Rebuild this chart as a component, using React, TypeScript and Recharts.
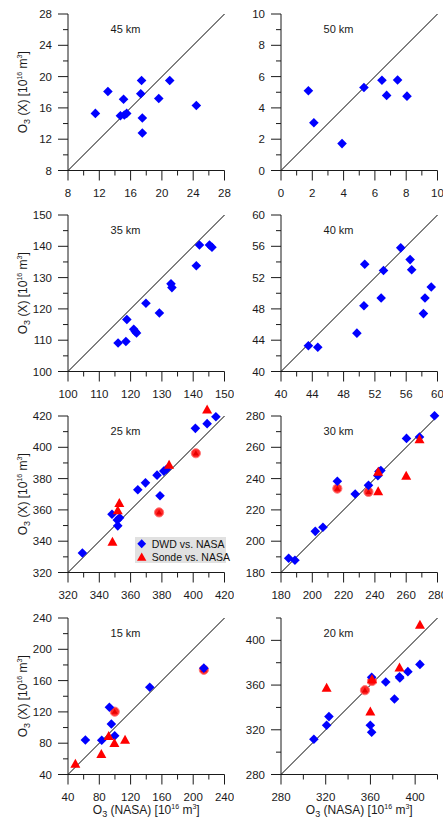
import React from 'react';
import { ScatterChart, Scatter, XAxis, YAxis, ReferenceLine, Legend, Label } from 'recharts';

// axis ticks (labelled majors) and axis ranges per altitude
const ticks45 = [8, 12, 16, 20, 24, 28];
const ticks50 = [0, 2, 4, 6, 8, 10];
const ticks35 = [100, 110, 120, 130, 140, 150];
const ticks40 = [40, 44, 48, 52, 56, 60];
const ticks25 = [320, 340, 360, 380, 400, 420];
const ticks30 = [180, 200, 220, 240, 260, 280];
const ticks15 = [40, 80, 120, 160, 200, 240];
const ticks20 = [280, 320, 360, 400];
const range20 = [280, 420];

// [O3 NASA, O3 X] pairs, 10^16 m^3
const dwd45 = [[11.5, 15.3], [13.1, 18.1], [15.1, 17.1], [14.7, 15.0], [15.2, 15.1], [15.5, 15.3], [17.3, 17.8], [17.4, 19.5], [17.5, 14.7], [17.5, 12.8], [19.6, 17.2], [21.0, 19.5], [24.4, 16.3]];
const dwd50 = [[1.75, 5.1], [2.1, 3.05], [3.9, 1.72], [5.3, 5.3], [6.45, 5.77], [6.75, 4.8], [7.45, 5.78], [8.05, 4.75]];
const dwd35 = [[116.0, 109.1], [118.5, 109.6], [118.8, 116.6], [121.0, 113.5], [121.5, 112.8], [121.9, 112.3], [124.9, 121.8], [129.2, 118.7], [132.9, 128.0], [133.2, 126.8], [141.0, 133.8], [142.0, 140.4], [145.2, 140.4], [146.0, 139.7]];
const dwd40 = [[43.5, 43.3], [44.7, 43.1], [49.7, 44.9], [50.6, 48.4], [50.7, 53.7], [52.8, 49.4], [53.1, 52.9], [55.3, 55.8], [56.5, 54.3], [56.7, 53.0], [58.2, 47.4], [58.4, 49.4], [59.2, 50.8]];
const dwd25 = [[329.2, 332.5], [348.1, 357.2], [351.8, 349.8], [351.5, 353.5], [353.0, 355.0], [364.6, 372.9], [369.5, 377.3], [376.9, 382.2], [378.8, 369.0], [381.2, 384.8], [382.9, 386.0], [401.4, 412.1], [408.9, 415.1], [414.5, 419.5]];
const sonde25 = [[348.4, 339.7], [351.8, 359.7], [352.8, 364.4], [384.6, 388.8], [408.9, 424.2]];
const ring25 = [[378.2, 358.4], [401.7, 396.2]];
const dwd30 = [[184.9, 189.1], [188.9, 187.8], [201.9, 206.3], [206.8, 208.9], [216.0, 238.3], [227.4, 230.2], [235.9, 235.7], [241.9, 241.9], [242.6, 244.5], [243.8, 245.1], [260.2, 265.7], [268.5, 266.6], [278.1, 280.2]];
const sonde30 = [[242.1, 231.9], [242.1, 244.3], [260.0, 241.9], [268.5, 265.1]];
const ring30 = [[216.0, 233.6], [235.9, 231.5]];
const dwd15 = [[62.2, 84.0], [83.1, 83.7], [92.9, 126.0], [95.4, 104.5], [99.7, 89.6], [144.5, 151.5], [213.6, 175.9]];
const sonde15 = [[49.4, 53.7], [82.6, 66.1], [92.0, 89.1], [99.3, 80.2], [112.9, 84.4]];
const ring15 = [[99.7, 120.3], [213.6, 173.8]];
const dwd20 = [[309.4, 311.5], [320.8, 324.0], [322.9, 331.8], [359.9, 324.0], [361.1, 317.8], [361.1, 366.9], [373.7, 362.7], [381.5, 347.6], [386.0, 367.5], [386.3, 366.3], [393.5, 372.0], [404.3, 378.5]];
const sonde20 = [[320.8, 357.7], [359.9, 336.3], [361.4, 365.1], [386.0, 375.8], [404.3, 413.9]];
const ring20 = [[355.1, 355.4], [361.4, 363.6]];

const AXIS = '#1a1a1a';
const BLUE = '#0000ff';
const RED = '#ff0000';
const FONT = '"Liberation Sans", Arial, sans-serif';

const PLOT = 156.5;
const AXIS_W = 68;
const AXIS_H = 45;
const TOP = 14;
const RIGHT = 10;

const toPts = (pairs: number[][]) => pairs.map(([x, y]) => ({ x, y }));

// majors plus one minor tick between each pair
const withMinors = (majors: number[], domain: number[]) => {
  const half = (majors[1] - majors[0]) / 2;
  const out: number[] = [];
  for (let v = domain[0]; v <= domain[1] + 1e-9; v += half) out.push(+v.toFixed(4));
  return out;
};

const Diamond = (p: any) => {
  const { cx, cy } = p;
  const r = 4.8;
  return <path d={`M${cx},${cy - r}L${cx + r},${cy}L${cx},${cy + r}L${cx - r},${cy}Z`} fill={BLUE} />;
};

const Triangle = (p: any) => {
  const { cx, cy } = p;
  return <path d={`M${cx},${cy - 5}L${cx + 5},${cy + 4}L${cx - 5},${cy + 4}Z`} fill={RED} />;
};

const Ring = (p: any) => {
  const { cx, cy } = p;
  return (
    <g>
      <circle cx={cx} cy={cy} r={4.6} fill="#ff2a2a" stroke="#ff7a7a" strokeWidth={1} />
      <path d={`M${cx},${cy - 3}L${cx + 3},${cy + 2.2}L${cx - 3},${cy + 2.2}Z`} fill="#e80000" />
    </g>
  );
};

const XTick = (props: any) => {
  const { x, y, payload, majors } = props;
  const major = majors.includes(payload.value);
  return (
    <g>
      <line x1={x} x2={x} y1={y} y2={y + (major ? 10 : 5)} stroke={AXIS} />
      {major && (
        <text x={x} y={y + 26.5} textAnchor="middle" fontSize={11.5} fill={AXIS} fontFamily={FONT}>
          {payload.value}
        </text>
      )}
    </g>
  );
};

const YTick = (props: any) => {
  const { x, y, payload, majors } = props;
  const major = majors.includes(payload.value);
  return (
    <g>
      <line x1={x - (major ? 10 : 5)} x2={x} y1={y} y2={y} stroke={AXIS} />
      {major && (
        <text x={x - 16} y={y + 4} textAnchor="end" fontSize={11.5} fill={AXIS} fontFamily={FONT}>
          {payload.value}
        </text>
      )}
    </g>
  );
};

const YTitle = () => {
  const cx = 27.3;
  const cy = TOP + PLOT / 2;
  return (
    <text x={cx} y={cy} transform={`rotate(-90, ${cx}, ${cy})`} textAnchor="middle" fontSize={12} fill={AXIS} fontFamily={FONT}>
      O<tspan dy={3} fontSize={9}>3</tspan>
      <tspan dy={-3}> (X) [10</tspan>
      <tspan dy={-5} fontSize={7}>16</tspan>
      <tspan dy={5}> m</tspan>
      <tspan dy={-5} fontSize={7}>3</tspan>
      <tspan dy={5}>]</tspan>
    </text>
  );
};

const XTitle = () => (
  <text x={AXIS_W + PLOT / 2} y={TOP + PLOT + 39.5} textAnchor="middle" fontSize={12} fill={AXIS} fontFamily={FONT}>
    O<tspan dy={3} fontSize={9}>3</tspan>
    <tspan dy={-3}> (NASA) [10</tspan>
    <tspan dy={-5} fontSize={7}>16</tspan>
    <tspan dy={5}> m</tspan>
    <tspan dy={-5} fontSize={7}>3</tspan>
    <tspan dy={5}>]</tspan>
  </text>
);

const LegendBox = (props: any) => {
  // only the two plain series are listed
  const items = (props.payload || []).filter((e: any) => e.type === 'diamond' || e.type === 'triangle');
  return (
    <div style={{ background: '#e1e1e1', width: 91, height: 26, position: 'relative', fontFamily: FONT, fontSize: 10.5, color: '#111' }}>
      {items.map((e: any, i: number) => (
        <div key={i} style={{ position: 'absolute', left: 0, top: i * 13.5, height: 13.5, display: 'flex', alignItems: 'center', whiteSpace: 'nowrap' }}>
          <svg width={16.7} height={13.5} style={{ display: 'block' }}>
            {e.type === 'diamond' ? (
              <path d="M6.7,2.2L11.1,6.75L6.7,11.3L2.3,6.75Z" fill={BLUE} />
            ) : (
              <path d="M6.7,2.5L11.4,10.8L2,10.8Z" fill={RED} />
            )}
          </svg>
          <span>{e.value}</span>
        </div>
      ))}
    </div>
  );
};

type PanelProps = {
  title: string;
  majors: number[];
  domain: number[];
  dwd: number[][];
  sonde?: number[][];
  ring?: number[][];
  left: number;
  top: number;
  yTitle?: boolean;
  xTitle?: boolean;
  legend?: boolean;
};

const Panel = ({ title, majors, domain, dwd, sonde, ring, left, top, yTitle, xTitle, legend }: PanelProps) => {
  const all = withMinors(majors, domain);
  const [lo, hi] = domain;
  return (
    <div style={{ position: 'absolute', left: left - AXIS_W, top: top - TOP }}>
      <ScatterChart
        width={AXIS_W + PLOT + RIGHT}
        height={TOP + PLOT + AXIS_H}
        margin={{ top: TOP, right: RIGHT, left: 0, bottom: 0 }}
      >
        <XAxis
          type="number"
          dataKey="x"
          domain={domain}
          ticks={all}
          interval={0}
          allowDataOverflow
          tickSize={0}
          tickMargin={0}
          tickLine={false}
          axisLine={{ stroke: AXIS }}
          height={AXIS_H}
          tick={(p: any) => <XTick {...p} majors={majors} />}
        >
          {xTitle && <Label content={() => <XTitle />} />}
        </XAxis>
        <YAxis
          type="number"
          dataKey="y"
          domain={domain}
          ticks={all}
          interval={0}
          allowDataOverflow
          tickSize={0}
          tickMargin={0}
          tickLine={false}
          axisLine={{ stroke: AXIS }}
          width={AXIS_W}
          tick={(p: any) => <YTick {...p} majors={majors} />}
        >
          {yTitle && <Label content={() => <YTitle />} />}
          <Label
            content={() => (
              <text x={AXIS_W + 57.5} y={TOP + 19} textAnchor="middle" fontSize={11} fill={AXIS} fontFamily={FONT}>
                {title}
              </text>
            )}
          />
        </YAxis>
        <ReferenceLine segment={[{ x: lo, y: lo }, { x: hi, y: hi }]} stroke="#000" strokeWidth={1} ifOverflow="visible" />
        {ring && (
          <Scatter name="Sonde ring" data={toPts(ring)} shape={Ring} legendType="none" isAnimationActive={false} fill={RED} />
        )}
        <Scatter name="DWD vs. NASA" data={toPts(dwd)} shape={Diamond} legendType="diamond" isAnimationActive={false} fill={BLUE} />
        {sonde && (
          <Scatter name="Sonde vs. NASA" data={toPts(sonde)} shape={Triangle} legendType="triangle" isAnimationActive={false} fill={RED} />
        )}
        {legend && (
          <Legend
            layout="horizontal"
            verticalAlign="middle"
            align="center"
            content={LegendBox}
            wrapperStyle={{ left: 135.3, top: 135.3, width: 91, height: 26 }}
          />
        )}
      </ScatterChart>
    </div>
  );
};

const COL = [67.7, 280.7];
const ROW = [14, 215, 415.7, 617.7];

export default function App() {
  return (
    <div style={{ position: 'absolute', left: 0, top: 0, width: 443, height: 818, background: '#fff', overflow: 'hidden', fontFamily: FONT }}>
      <style>{'.recharts-scatter{clip-path:none}'}</style>
      <Panel title="45 km" majors={ticks45} domain={[8, 28]} dwd={dwd45} left={COL[0]} top={ROW[0]} yTitle />
      <Panel title="50 km" majors={ticks50} domain={[0, 10]} dwd={dwd50} left={COL[1]} top={ROW[0]} />
      <Panel title="35 km" majors={ticks35} domain={[100, 150]} dwd={dwd35} left={COL[0]} top={ROW[1]} yTitle />
      <Panel title="40 km" majors={ticks40} domain={[40, 60]} dwd={dwd40} left={COL[1]} top={ROW[1]} />
      <Panel title="25 km" majors={ticks25} domain={[320, 420]} dwd={dwd25} sonde={sonde25} ring={ring25} left={COL[0]} top={ROW[2]} yTitle legend />
      <Panel title="30 km" majors={ticks30} domain={[180, 280]} dwd={dwd30} sonde={sonde30} ring={ring30} left={COL[1]} top={ROW[2]} />
      <Panel title="15 km" majors={ticks15} domain={[40, 240]} dwd={dwd15} sonde={sonde15} ring={ring15} left={COL[0]} top={ROW[3]} yTitle xTitle />
      <Panel title="20 km" majors={ticks20} domain={range20} dwd={dwd20} sonde={sonde20} ring={ring20} left={COL[1]} top={ROW[3]} xTitle />
    </div>
  );
}
